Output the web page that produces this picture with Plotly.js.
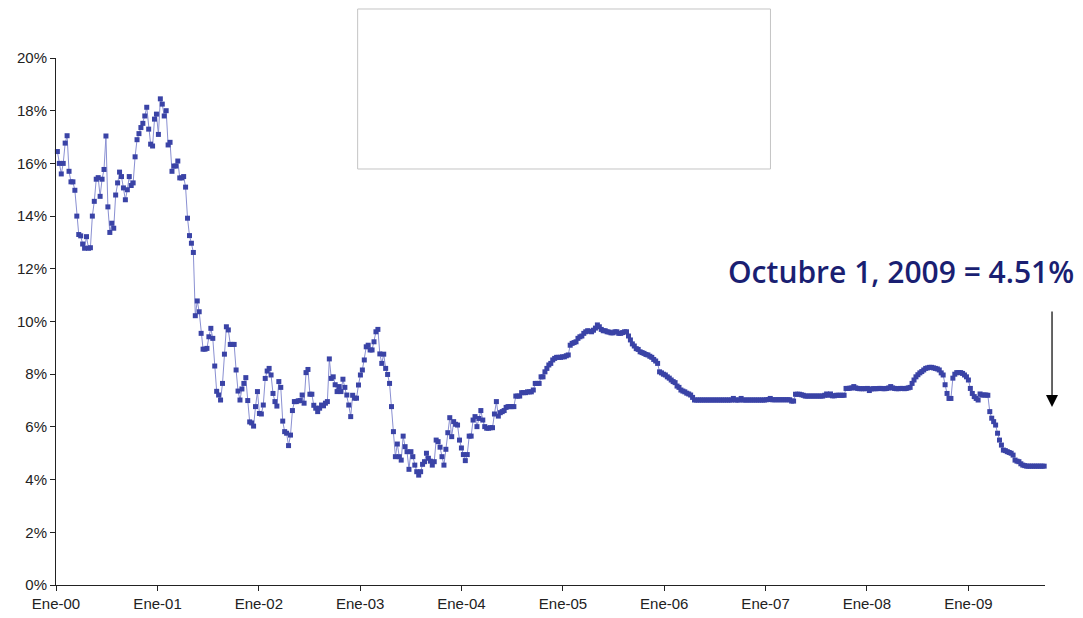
<!DOCTYPE html>
<html>
<head>
<meta charset="utf-8">
<script src="https://cdn.plot.ly/plotly-3.0.1.min.js"></script>
<style>html,body{margin:0;padding:0;background:#fff;}#chart{width:1083px;height:618px;}</style>
</head>
<body>
<div id="chart"></div>
<script>
// Weekly values (%), first week of each year starts on a Thursday
var v2000 = [16.45,16.0,15.6,16.0,16.77,17.05,15.7,15.3,15.3,14.98,14.0,13.3,13.25,12.94,12.78,13.22,12.78,12.8,14.0,14.56,15.4,15.46,14.75,15.4,15.77,17.04,14.35,13.38,13.73,13.54,14.8,15.26,15.67,15.5,15.07,14.62,15.0,15.5,15.16,15.26,16.25,16.9,17.13,17.36,17.52,17.8,18.13,17.3,16.73,16.66,17.68,17.87];
var v2001 = [17.1,18.45,18.25,17.8,18.0,16.7,16.8,15.7,15.9,15.9,16.09,15.45,15.45,15.5,15.1,13.92,13.26,12.97,12.62,10.22,10.78,10.37,9.55,8.95,8.95,8.98,9.42,9.74,9.36,8.31,7.35,7.21,7.02,7.65,8.76,9.8,9.68,9.13,9.13,9.13,8.16,7.36,7.02,7.44,7.65,7.87,7.0,6.19,6.15,6.03,6.77,7.34];
var v2002 = [6.51,6.49,6.83,7.84,8.12,8.22,7.97,7.27,6.96,6.79,7.72,7.5,6.22,5.82,5.76,5.29,5.69,6.62,6.96,6.96,6.99,7.0,7.21,6.9,8.06,8.18,7.24,7.24,6.82,6.71,6.58,6.71,6.83,6.8,6.9,6.96,8.58,7.84,7.9,7.6,7.34,7.53,7.34,7.81,7.5,7.21,6.83,6.39,7.2,7.09,7.09,7.59];
var v2003 = [7.97,8.16,8.54,9.04,9.1,8.92,8.92,9.23,9.61,9.7,8.77,8.41,8.76,8.22,7.99,7.65,6.77,5.82,4.87,5.35,4.87,4.74,5.65,5.25,5.06,4.39,5.06,4.87,4.55,4.3,4.17,4.3,4.58,4.68,5.0,4.81,4.7,4.55,4.68,5.5,5.44,5.23,4.87,4.55,5.15,5.78,6.35,5.63,6.2,6.1,6.07,5.5];
var v2004 = [5.2,4.95,4.72,4.95,5.65,5.65,6.26,6.39,6.01,6.32,6.62,6.26,6.01,5.95,5.95,5.97,5.97,6.49,6.96,6.41,6.54,6.58,6.62,6.74,6.77,6.77,6.77,6.77,7.17,7.17,7.17,7.3,7.3,7.3,7.33,7.33,7.33,7.4,7.65,7.65,7.65,7.9,7.9,8.09,8.22,8.35,8.41,8.54,8.6,8.64,8.64,8.64,8.66];
var v2005 = [8.66,8.7,8.73,9.1,9.17,9.2,9.23,9.36,9.42,9.45,9.55,9.61,9.65,9.63,9.61,9.67,9.75,9.87,9.8,9.7,9.65,9.65,9.61,9.6,9.57,9.57,9.61,9.61,9.55,9.55,9.58,9.61,9.61,9.45,9.3,9.15,9.07,8.97,8.94,8.85,8.82,8.79,8.75,8.73,8.68,8.64,8.56,8.5,8.41,8.09,8.05,8.0];
var v2006 = [7.97,7.9,7.85,7.78,7.72,7.68,7.55,7.5,7.4,7.36,7.33,7.28,7.25,7.21,7.12,7.02,7.02,7.02,7.02,7.02,7.02,7.02,7.02,7.02,7.02,7.02,7.02,7.02,7.02,7.02,7.02,7.02,7.02,7.02,7.02,7.08,7.02,7.02,7.02,7.08,7.02,7.02,7.02,7.02,7.02,7.02,7.02,7.02,7.02,7.02,7.02,7.02];
var v2007 = [7.03,7.04,7.08,7.03,7.03,7.03,7.03,7.03,7.03,7.03,7.03,7.03,7.03,6.98,6.98,7.24,7.24,7.24,7.22,7.2,7.17,7.17,7.17,7.17,7.17,7.17,7.17,7.17,7.17,7.17,7.2,7.25,7.2,7.25,7.18,7.18,7.2,7.2,7.2,7.2,7.2,7.46,7.46,7.47,7.48,7.53,7.48,7.46,7.45,7.45,7.45,7.45];
var v2008 = [7.46,7.38,7.44,7.45,7.45,7.45,7.46,7.46,7.45,7.45,7.46,7.48,7.53,7.48,7.46,7.45,7.45,7.46,7.46,7.45,7.46,7.48,7.5,7.65,7.78,7.9,7.98,8.05,8.1,8.16,8.22,8.24,8.26,8.26,8.24,8.22,8.2,8.16,8.05,7.97,7.6,7.27,7.08,7.08,7.85,8.0,8.06,8.06,8.06,8.03,7.97,7.9];
var v2009 = [7.78,7.46,7.27,7.15,7.08,7.02,7.25,7.21,7.21,7.21,7.2,6.58,6.33,6.2,6.07,5.76,5.5,5.31,5.12,5.1,5.06,5.03,5.0,4.93,4.74,4.7,4.68,4.6,4.55,4.53,4.51,4.51,4.51,4.51,4.51,4.51,4.51,4.51,4.51,4.51];

var firstWeek = '2000-01-06';
var tickDates = ['2000-01-01','2001-01-01','2002-01-01','2003-01-01','2004-01-01','2005-01-01','2006-01-01','2007-01-01','2008-01-01','2009-01-01'];
var tickLabels = ['Ene-00','Ene-01','Ene-02','Ene-03','Ene-04','Ene-05','Ene-06','Ene-07','Ene-08','Ene-09'];
var yTicks = [0,2,4,6,8,10,12,14,16,18,20];
var yTickLabels = ['0%','2%','4%','6%','8%','10%','12%','14%','16%','18%','20%'];
var noteText = 'Octubre 1, 2009 = 4.51%';

var values = [].concat(v2000,v2001,v2002,v2003,v2004,v2005,v2006,v2007,v2008,v2009);
var t0 = Date.parse(firstWeek + 'T00:00:00Z');
var dates = values.map(function(_, i){
  return new Date(t0 + i*7*86400000).toISOString().slice(0,10);
});

var trace = {
  x: dates, y: values, type: 'scatter', mode: 'lines+markers',
  line: {color: '#8a90d2', width: 1},
  marker: {symbol: 'square', size: 5, color: '#3a43a6', line: {width: 0}},
  cliponaxis: false, hoverinfo: 'skip'
};

var tickFont = {family: 'Liberation Sans, Arial, sans-serif', size: 15, color: '#222'};

var layout = {
  width: 1083, height: 618,
  margin: {l: 56, r: 38, t: 58, b: 33},
  paper_bgcolor: '#fff', plot_bgcolor: '#fff',
  showlegend: false,
  xaxis: {
    type: 'date', range: ['2000-01-01', '2009-10-04'],
    tickvals: tickDates, ticktext: tickLabels,
    ticks: 'outside', ticklen: 5, tickcolor: '#222', tickwidth: 1,
    showline: true, linecolor: '#222', linewidth: 1,
    showgrid: false, zeroline: false, tickfont: tickFont
  },
  yaxis: {
    range: [0, 20], tickvals: yTicks, ticktext: yTickLabels,
    ticks: 'outside', ticklen: 5, tickcolor: '#222', tickwidth: 1,
    showline: true, linecolor: '#222', linewidth: 1,
    showgrid: false, zeroline: false, tickfont: tickFont
  },
  shapes: [{
    type: 'rect', xref: 'paper', yref: 'paper',
    x0: 0.305, x1: 0.7224, y0: 0.7894, y1: 1.093,
    line: {color: '#c4c4c4', width: 1}, fillcolor: 'rgba(0,0,0,0)'
  }],
  annotations: [{
    xref: 'paper', yref: 'paper', x: 0.854, y: 0.594,
    xanchor: 'center', yanchor: 'middle', showarrow: false,
    text: noteText,
    font: {family: 'Open Sans, DejaVu Sans, sans-serif', size: 30, weight: 600, color: '#1a1f72'}
  },{
    xref: 'paper', yref: 'paper', x: 1.0071, y: 0.3378,
    ax: 0, ay: -97, text: '', showarrow: true,
    arrowhead: 2, arrowsize: 2, arrowwidth: 1.2, arrowcolor: '#000', standoff: 0
  }]
};

Plotly.newPlot('chart', [trace], layout, {staticPlot: true, displayModeBar: false});
</script>
</body>
</html>
